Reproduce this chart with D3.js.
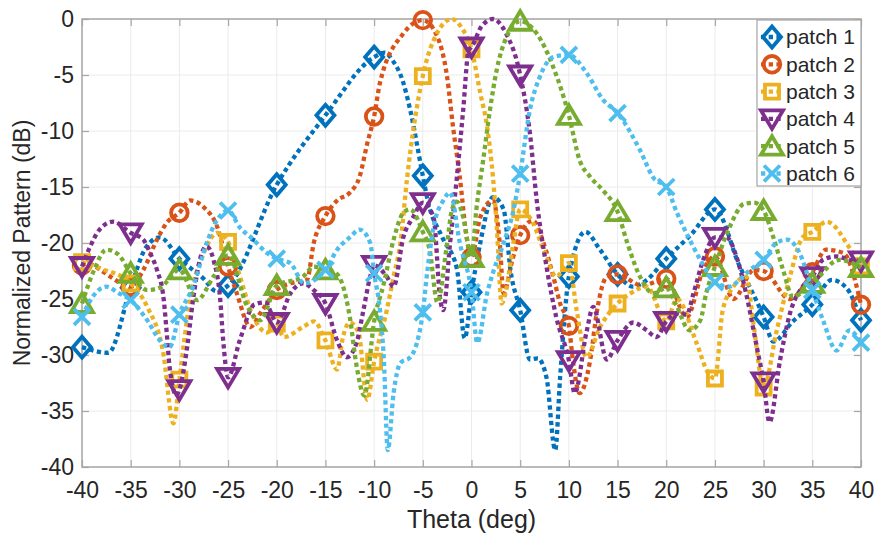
<!DOCTYPE html>
<html>
<head>
<meta charset="utf-8">
<script src="https://cdn.jsdelivr.net/npm/d3@7"></script>
<style>
body { margin: 0; background: #fff; }
text { font-family: Arial, "Liberation Sans", Helvetica, sans-serif; fill: #262626; }
</style>
</head>
<body>
<script>
// series names and colours (MATLAB default order)
var names = ["patch 1", "patch 2", "patch 3", "patch 4", "patch 5", "patch 6"];
var colors = ["#0072BD", "#D95319", "#EDB120", "#7E2F8E", "#77AC30", "#4DBEEE"];
var shapes = ["diamond", "circle", "square", "down", "up", "cross"];

var xTicks = [-40, -35, -30, -25, -20, -15, -10, -5, 0, 5, 10, 15, 20, 25, 30, 35, 40];
var yTicks = [0, -5, -10, -15, -20, -25, -30, -35, -40];

// [theta (deg), pattern (dB)]; markers sit on every 5 deg
var patch1 = [[-40,-29.3],[-37.3,-29.8],[-35,-24],[-33.5,-20.5],[-32,-19.5],[-30,-21.4],[-27.5,-23.2],[-26.2,-24.3],[-25,-23.8],
  [-20,-14.8],[-15,-8.6],[-10,-3.4],[-8.9,-3.0],[-8.1,-3.7],[-7,-5.7],[-6.3,-8.1],[-5,-14],[-4.5,-16.2],[-3,-19.5],[-1.5,-22.3],
  [-0.7,-28.5],[0,-24.4],[0.9,-20],[2.2,-15.9],[3.3,-17],[4,-22.4],[5,-26],[6,-30.4],[6.8,-30.3],[7.7,-32],[8.6,-38.5],[9.1,-32],
  [10,-23],[11.7,-19],[13.2,-20.6],[15,-22.8],[16.6,-23.9],[18,-23.3],[20,-21.4],[22.5,-19.3],[25,-17],[27.5,-22],[30,-26.6],
  [31,-28.8],[33,-27],[35,-25.5],[37,-23.3],[38.5,-24],[40,-26.9]];

var patch2 = [[-40,-22],[-39.5,-21.8],[-38.1,-22.4],[-37.1,-23],[-35,-23.9],[-33.7,-22.4],[-32.3,-19.7],[-31.3,-18.2],[-30,-17.3],
  [-28.9,-16.2],[-27.5,-16.8],[-26.1,-18.6],[-25,-22.1],[-24.1,-24.5],[-22.7,-27.5],[-21.7,-26.3],[-20.7,-25],[-20,-24.2],
  [-18.6,-23.6],[-16.9,-23.3],[-16.2,-20],[-15,-17.6],[-13.8,-16.2],[-12.5,-15.5],[-11.5,-14.1],[-10.7,-11.1],[-10,-8.7],
  [-9.4,-5.7],[-7,-1.3],[-5,-0.1],[-3.5,-1.6],[-2.5,-5.2],[-1.9,-9.6],[-1.2,-14.1],[-0.5,-19.5],[0,-21.3],[0.9,-17.7],
  [2.2,-16.2],[2.9,-20],[3.3,-24.5],[4.2,-21.5],[5,-19.3],[6.3,-18],[7.4,-20],[8.4,-23],[9.1,-25.4],[10,-27.4],[10.4,-30.4],
  [11.1,-33.4],[12.2,-30.4],[12.9,-26],[13.9,-23],[15,-22.8],[17.5,-23.8],[20,-23.2],[22.1,-26.6],[23.8,-22.4],[25,-21.2],
  [26.9,-25],[29,-22.4],[30,-22.5],[32.7,-25],[35,-22.6],[36.4,-20.6],[38.2,-20.9],[40,-25.5]];

var patch3 = [[-40,-21.7],[-38,-22.3],[-35,-23.6],[-33.3,-25.7],[-31.7,-29.6],[-30.6,-36.1],[-30,-32.2],[-28.9,-25],[-27.5,-20.9],
  [-26.1,-19.1],[-25,-19.9],[-24.1,-22.1],[-22.4,-26.6],[-21,-28],[-20,-27.2],[-19.3,-28.4],[-17.3,-27.5],[-16.2,-27],[-15,-28.7],
  [-13.8,-31.3],[-13.2,-28.4],[-12.5,-27.1],[-11.6,-28],[-10.7,-34],[-10,-30.6],[-8.7,-26],[-8,-23],[-7.3,-20],[-6.6,-14.1],
  [-5,-5.1],[-3.5,-1.2],[-2,0],[-1,-0.8],[0,-2.7],[0.9,-6.6],[1.6,-9.6],[2.2,-14.1],[2.6,-18.6],[3.1,-25.4],[3.6,-24],[4.3,-20],
  [5,-17],[6.3,-18.2],[7.4,-20.6],[8.7,-23],[10,-21.8],[10.8,-26],[11.8,-30.2],[13.2,-27.5],[15,-25.4],[16.3,-24.5],[18,-23.9],
  [20,-27],[21.1,-25],[23.1,-28.9],[24.3,-31.6],[25,-32.1],[25.8,-26],[26.9,-23.9],[28.2,-23],[29,-27.5],[30,-32.9],[31.3,-28],
  [32.7,-23],[34,-19.5],[35,-19],[36.5,-18.1],[38.8,-20.4],[40,-22.1]];

var patch4 = [[-40,-22.1],[-39.2,-20.4],[-38.2,-18.8],[-36.8,-18.1],[-35,-19.1],[-33.7,-19.7],[-33,-20.9],[-32.3,-22.4],[-31.6,-25.1],
  [-31.3,-28],[-31,-31.1],[-30.3,-33.6],[-30,-33.1],[-29.2,-29.3],[-28.6,-25.1],[-27.9,-21.5],[-27.2,-20.3],[-26.5,-21.5],
  [-25.8,-25.1],[-25.5,-28.7],[-25,-32],[-23.8,-28.7],[-22.3,-25.5],[-21.2,-25.3],[-20,-27.1],[-18.6,-24.5],[-17.3,-23.6],
  [-16.2,-24.2],[-15,-25.4],[-13.8,-28.7],[-12.8,-30.2],[-11.8,-28.9],[-11.1,-26],[-10.4,-23],[-10,-22],[-8.7,-23],[-8,-23.9],
  [-7,-19.5],[-6,-17.7],[-5,-16.4],[-3.9,-17.7],[-3.2,-25.1],[-2.9,-26],[-2.2,-20],[-1.5,-14.1],[-0.85,-8.1],[-0.3,-2.8],[0,-2.5],
  [1,-0.7],[2.2,0],[3.5,-1.2],[5,-5],[6,-10.2],[6.7,-16.2],[7.7,-22.1],[8.7,-26.6],[10,-30.5],[10.6,-33.4],[11.8,-28],[12.5,-25.7],
  [13.9,-30.4],[15,-28.7],[16.6,-27.1],[18,-27.8],[19,-28.4],[20,-27],[21.1,-26.3],[22.1,-26.4],[22.8,-24.5],[23.8,-21.5],[25,-19.5],
  [26.2,-19.5],[27.2,-21.2],[28.2,-24.5],[29.3,-29.3],[30,-32.4],[30.6,-36],[31.7,-30.4],[32.7,-26.3],[34,-23.9],[35,-23],
  [36.1,-21.5],[37.5,-21.2],[38.8,-21.5],[40,-21.6]];

var patch5 = [[-40,-25.4],[-38.8,-22.5],[-37.5,-20.6],[-36.3,-21],[-35,-22.7],[-33.3,-24.2],[-32,-24],[-30,-22.4],[-28.2,-25.1],
  [-26.5,-23],[-25,-21.1],[-23,-25.7],[-21.7,-26.9],[-20,-23.8],[-17.3,-23],[-16.2,-22.1],[-15,-22.4],[-13.9,-22.7],[-12.5,-26.6],
  [-11.8,-31],[-11,-33.6],[-10,-27],[-9,-23.6],[-8,-19.7],[-7,-17.3],[-6.3,-17],[-5,-19],[-4.3,-20.6],[-3.5,-25.3],[-2.5,-20],
  [-2,-17],[-1.5,-16.3],[-0.85,-17.7],[0,-21.3],[0.5,-17],[1.2,-12.6],[1.9,-8.1],[2.6,-4.5],[3.6,-1.6],[5,-0.2],[6.7,-1.3],
  [8.4,-4.3],[10,-8.6],[11.1,-12.6],[12.2,-14.1],[13.5,-15.3],[15,-17.2],[16,-20],[17.3,-23],[18.7,-24.5],[20,-24],[21,-25.5],
  [22.4,-27.8],[23.5,-26.9],[24.1,-24.5],[25,-22.1],[26.5,-18.6],[28,-16.5],[29,-16.4],[30,-17.1],[31,-19.5],[32,-22.4],
  [33,-24.8],[35,-23.6],[37.8,-21.5],[40,-22.2]];

var patch6 = [[-40,-26.6],[-38.9,-24.8],[-37.5,-23.9],[-36.2,-24.5],[-35,-25.1],[-33.3,-26.9],[-32,-28.7],[-31,-29.3],[-30,-26.4],
  [-28.6,-23.9],[-27.2,-20],[-26.1,-17.9],[-25,-17.1],[-23.8,-18.6],[-22.4,-19.7],[-21,-20.9],[-20,-21.4],[-18.6,-21.8],
  [-17.2,-23.6],[-15,-22.4],[-13.8,-20.6],[-12.5,-19.5],[-11.5,-18.8],[-10.4,-20],[-10,-22.7],[-9.4,-26],[-9,-30.4],[-8.6,-38.5],
  [-8,-33.4],[-7.3,-30.7],[-6.3,-30.2],[-5.6,-28.9],[-5,-26.2],[-4.6,-23],[-3.9,-18.6],[-2.9,-16.2],[-2.2,-15.5],[-1.2,-20],
  [0,-24.4],[0.6,-28.9],[1.6,-24.5],[2.3,-22.4],[3.3,-20],[4.3,-17.1],[5,-13.8],[6,-8.1],[7,-5.2],[8.4,-3.4],[10,-3.2],
  [11.8,-4.8],[13.5,-7.2],[15,-8.4],[17.3,-11.7],[18.7,-14.2],[20,-15],[21.1,-17.3],[22.4,-19.7],[23.5,-21.5],[25,-23.5],
  [26.5,-23.9],[27.5,-23.3],[28.6,-22.4],[30,-21.5],[31.3,-20],[32.4,-19.7],[33.7,-20.9],[35,-24.2],[36.1,-26.9],[37.5,-29.6],
  [38.8,-27.8],[40,-28.9]];

var series = [patch1, patch2, patch3, patch4, patch5, patch6];

var w = 875;
var h = 534;
var plotL = 82, plotR = 861, plotT = 19, plotB = 467;

var svg = d3.select("body")
            .append("svg")
            .attr("width", w)
            .attr("height", h);

var x = d3.scaleLinear().domain([-40, 40]).range([plotL, plotR]);
var y = d3.scaleLinear().domain([-40, 0]).range([plotB, plotT]);

// plain hyphen minus like the original, not the unicode one d3 uses
var fmt = function(d){ return String(d); };

// grid
var grid = svg.append("g").attr("stroke", "#ebebeb").attr("stroke-width", 1);
grid.selectAll(".gx").data(xTicks).enter().append("line")
    .attr("x1", function(d){ return x(d); })
    .attr("x2", function(d){ return x(d); })
    .attr("y1", plotT).attr("y2", plotB);
grid.selectAll(".gy").data(yTicks).enter().append("line")
    .attr("y1", function(d){ return y(d); })
    .attr("y2", function(d){ return y(d); })
    .attr("x1", plotL).attr("x2", plotR);

// axes, ticks pointing inward
function styleAxis(g){
  g.select(".domain").remove();
  g.selectAll(".tick line").attr("stroke", "#a6a6a6").attr("stroke-width", 1.2);
  g.selectAll("text").attr("font-size", "23px").attr("fill", "#262626")
   .attr("font-family", "Arial, 'Liberation Sans', sans-serif");
}

svg.append("g")
   .attr("transform", "translate(0," + plotB + ")")
   .call(d3.axisBottom(x).tickValues(xTicks).tickSize(-7).tickPadding(15).tickFormat(fmt))
   .call(styleAxis);
svg.append("g")
   .attr("transform", "translate(0," + plotT + ")")
   .call(d3.axisTop(x).tickValues(xTicks).tickSize(-7).tickFormat(""))
   .call(styleAxis);
svg.append("g")
   .attr("transform", "translate(" + plotL + ",0)")
   .call(d3.axisLeft(y).tickValues(yTicks).tickSize(-7).tickPadding(8).tickFormat(fmt))
   .call(styleAxis);
svg.append("g")
   .attr("transform", "translate(" + plotR + ",0)")
   .call(d3.axisRight(y).tickValues(yTicks).tickSize(-7).tickFormat(""))
   .call(styleAxis);

svg.append("rect")
   .attr("x", plotL).attr("y", plotT)
   .attr("width", plotR - plotL).attr("height", plotB - plotT)
   .attr("fill", "none")
   .attr("stroke", "#a6a6a6")
   .attr("stroke-width", 1.5);

// marker shapes
function markerPath(s){
  if (s == "diamond") return "M0,-10.5L9,0L0,10.5L-9,0Z";
  if (s == "circle") return "M8.3,0A8.3,8.3 0 1,1 -8.3,0A8.3,8.3 0 1,1 8.3,0Z";
  if (s == "square") return "M-7,-7L7,-7L7,7L-7,7Z";
  if (s == "down") return "M-11,-8.5L11,-8.5L0,10Z";
  if (s == "up") return "M-11,8.5L11,8.5L0,-10Z";
  return "M-8,-8L8,8M-8,8L8,-8";
}

var line = d3.line()
             .x(function(d){ return x(d[0]); })
             .y(function(d){ return y(d[1]); })
             .curve(d3.curveMonotoneX);

series.forEach(function(data, i){
  var g = svg.append("g");
  g.append("path")
   .attr("d", line(data))
   .attr("fill", "none")
   .attr("stroke", colors[i])
   .attr("stroke-width", 4.3)
   .attr("stroke-dasharray", "4.3,3.4");

  var marks = data.filter(function(d){ return d[0] % 5 == 0; });
  g.selectAll(".m").data(marks).enter().append("path")
   .attr("transform", function(d){ return "translate(" + x(d[0]) + "," + y(d[1]) + ")"; })
   .attr("d", markerPath(shapes[i]))
   .attr("fill", "none")
   .attr("stroke", colors[i])
   .attr("stroke-width", 3.8)
   .attr("stroke-linejoin", "miter");
});

// axis labels
svg.append("text")
   .attr("x", (plotL + plotR) / 2)
   .attr("y", 528)
   .attr("text-anchor", "middle")
   .attr("font-size", "25px")
   .text("Theta (deg)");

svg.append("text")
   .attr("transform", "translate(30," + (plotT + plotB) / 2 + ") rotate(-90)")
   .attr("text-anchor", "middle")
   .attr("font-size", "23px")
   .text("Normalized Pattern (dB)");

// legend
var lg = svg.append("g");
lg.append("rect")
  .attr("x", 757).attr("y", 20)
  .attr("width", 104).attr("height", 166)
  .attr("fill", "#fff")
  .attr("stroke", "#a6a6a6")
  .attr("stroke-width", 1.2);

names.forEach(function(name, i){
  var cy = 37 + i * 27.3;
  lg.append("line")
    .attr("x1", 761).attr("x2", 784)
    .attr("y1", cy).attr("y2", cy)
    .attr("stroke", colors[i])
    .attr("stroke-width", 4.3)
    .attr("stroke-dasharray", "4.3,3.4");
  lg.append("path")
    .attr("transform", "translate(772," + cy + ")")
    .attr("d", markerPath(shapes[i]))
    .attr("fill", "none")
    .attr("stroke", colors[i])
    .attr("stroke-width", 3.8);
  lg.append("text")
    .attr("x", 786).attr("y", cy)
    .attr("dy", "0.35em")
    .attr("font-size", "21px")
    .text(name);
});
</script>
</body>
</html>
